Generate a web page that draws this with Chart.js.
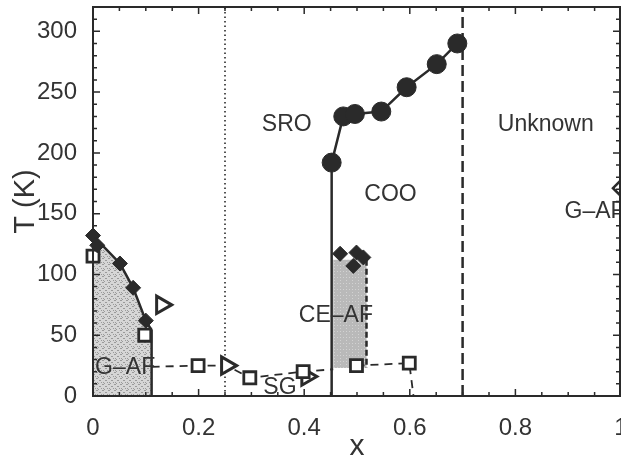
<!DOCTYPE html>
<html>
<head>
<meta charset="utf-8">
<script src="https://cdn.jsdelivr.net/npm/chart.js@4.4.1/dist/chart.umd.min.js"></script>
<style>
  html, body { margin: 0; padding: 0; background: #fff; overflow: hidden; }
  #wrap { width: 621px; height: 459px; }
</style>
</head>
<body>
<div id="wrap"><canvas id="c" width="621" height="459"></canvas></div>
<script>
// ---- axes ----
const xTicks = [0, 0.2, 0.4, 0.6, 0.8, 1];
const xTickLabels = ['0', '0.2', '0.4', '0.6', '0.8', '1'];
const yTicks = [0, 50, 100, 150, 200, 250, 300];
const yTickLabels = ['0', '50', '100', '150', '200', '250', '300'];

// ---- measured transition temperatures ----
// charge/orbital ordering (filled circles)
const cooX = [0.452, 0.474, 0.496, 0.546, 0.594, 0.651, 0.690];
const cooT = [192, 230, 232, 234, 254, 273, 290];
// Neel temperature, G-type AF side (filled diamonds)
const gafX = [0, 0.008, 0.051, 0.076, 0.100];
const gafT = [132, 124, 109, 89, 62];
// Neel temperature, CE-type AF (filled diamonds)
const ceX = [0.468, 0.493, 0.499, 0.512];
const ceT = [117, 107, 118, 114];
// freezing temperatures (open squares)
const sqX = [0, 0.098, 0.199, 0.297, 0.398, 0.499, 0.599];
const sqT = [115, 50, 25, 15, 20, 25, 27];
// open triangles
const triX = [0.13, 0.253, 0.405];
const triT = [75, 25, 16];
// open diamond, x = 1 end member
const endX = [1];
const endT = [171];

// ---- phase boundaries ----
const gafRegionX = [0, 0, 0.051, 0.076, 0.100, 0.111, 0.111];
const gafRegionT = [0, 132, 109, 89, 62, 54, 0];
const gafEdgeX = [0, 0.051, 0.076, 0.100, 0.111, 0.111];
const gafEdgeT = [132, 109, 89, 62, 54, 0];
const ceRegionX = [0.455, 0.455, 0.518, 0.518];
const ceRegionT = [23, 112, 112, 23];
const ceEdgeX = [0.518, 0.518];
const ceEdgeT = [112, 23];
const cooLineX = [0.452, 0.452, 0.474, 0.496, 0.546, 0.594, 0.651, 0.690];
const cooLineT = [0, 192, 230, 232, 234, 254, 273, 290];
const sgLineX = [0.111, 0.199, 0.253, 0.297, 0.398, 0.455];
const sgLineT = [24, 25, 25, 15, 20, 22];
const sgLine2X = [0.499, 0.599, 0.607];
const sgLine2T = [25, 27, 0];
const dottedX = [0.25, 0.25];
const dashedX = [0.7, 0.7];
const fullT = [0, 320];

// ---- region names ----
const regionNames = ['SRO', 'COO', 'Unknown', 'G\u2013AF', 'CE\u2013AF', 'G\u2013AF', 'SG'];
const regionX = [0.367, 0.5635, 0.8576, 0.893, 0.46, 0.004, 0.354];
const regionT = [223.5, 165.5, 223, 151.7, 66, 23.4, 7];
const regionAlign = ['center', 'center', 'center', 'left', 'center', 'left', 'center'];

const FONT = '"Liberation Sans", Arial, Helvetica, sans-serif';
const INK = '#2a2a2a';

const pts = (xs, ys) => xs.map((x, i) => ({ x, y: ys[i] }));

// grainy fills for the two ordered regions
function makePattern(base, speck, dots) {
  const p = document.createElement('canvas');
  p.width = 6; p.height = 6;
  const g = p.getContext('2d');
  g.fillStyle = base; g.fillRect(0, 0, 6, 6);
  g.fillStyle = speck;
  dots.forEach(([a, b]) => g.fillRect(a, b, 1, 1));
  return g.createPattern(p, 'repeat');
}
const ctx = document.getElementById('c').getContext('2d');
const gafFill = makePattern('#d6d6d6', '#9a9a9a', [[0,0],[1,0],[3,2],[4,2],[1,4],[5,4],[2,5]]);
const ceFill = makePattern('#b9b9b9', '#d2d2d2', [[1,1],[4,4],[4,1]]);

const lineDs = (data, extra) => Object.assign({
  data, showLine: true, pointRadius: 0, borderColor: INK, borderWidth: 2.5,
  fill: false, order: 1, clip: false, tension: 0
}, extra);

const markDs = (data, extra) => Object.assign({
  data, showLine: false, order: 0, clip: false,
  pointBorderColor: INK, pointHoverRadius: 0
}, extra);

// frame, inward ticks and axis titles
const framePlugin = {
  id: 'frame',
  afterDraw(chart) {
    const { ctx, chartArea: a, scales: { x, y } } = chart;
    ctx.save();
    ctx.strokeStyle = INK;
    ctx.lineWidth = 1.5;
    ctx.beginPath();
    for (let i = 0; i <= 20; i++) {
      const px = x.getPixelForValue(i * 0.05);
      const len = i % 4 === 0 ? 7 : 4;
      ctx.moveTo(px, a.bottom); ctx.lineTo(px, a.bottom - len);
      ctx.moveTo(px, a.top); ctx.lineTo(px, a.top + len);
    }
    for (let i = 0; i <= 32; i++) {
      const py = y.getPixelForValue(i * 10);
      const len = i % 5 === 0 ? 7 : 4;
      ctx.moveTo(a.left, py); ctx.lineTo(a.left + len, py);
      ctx.moveTo(a.right - 1, py); ctx.lineTo(a.right - 1 - len, py);
    }
    ctx.stroke();
    ctx.lineWidth = 2;
    ctx.strokeRect(a.left, a.top, a.right - 1 - a.left, a.bottom - a.top);

    ctx.fillStyle = '#333';
    ctx.textBaseline = 'alphabetic';
    ctx.textAlign = 'center';
    ctx.font = '30px ' + FONT;
    ctx.fillText('x', (a.left + a.right) / 2, 455);
    ctx.translate(34, (a.top + a.bottom) / 2);
    ctx.rotate(-Math.PI / 2);
    ctx.font = '29px ' + FONT;
    ctx.fillText('T (K)', 0, 0);
    ctx.restore();
  },
  afterDatasetsDraw(chart) {
    const { ctx, scales: { x, y } } = chart;
    ctx.save();
    ctx.fillStyle = '#333';
    ctx.font = '23px ' + FONT;
    ctx.textBaseline = 'middle';
    regionNames.forEach((t, i) => {
      ctx.textAlign = regionAlign[i];
      ctx.fillText(t, x.getPixelForValue(regionX[i]), y.getPixelForValue(regionT[i]));
    });
    ctx.restore();
  }
};

new Chart(ctx, {
  type: 'scatter',
  data: {
    datasets: [
      // shaded regions
      lineDs(pts(gafRegionX, gafRegionT), { fill: 'shape', backgroundColor: gafFill, borderWidth: 0, borderColor: 'rgba(0,0,0,0)', order: 3 }),
      lineDs(pts(ceRegionX, ceRegionT), { fill: 'shape', backgroundColor: ceFill, borderWidth: 0, borderColor: 'rgba(0,0,0,0)', order: 3 }),
      // reference lines
      lineDs(pts(dottedX, fullT), { borderWidth: 1.6, borderDash: [1.5, 3], order: 2 }),
      lineDs(pts(dashedX, fullT), { borderWidth: 2.5, borderDash: [11, 5] }),
      // boundaries
      lineDs(pts(gafEdgeX, gafEdgeT)),
      lineDs(pts(ceEdgeX, ceEdgeT), { borderDash: [6, 3] }),
      lineDs(pts(cooLineX, cooLineT)),
      lineDs(pts(sgLineX, sgLineT), { borderWidth: 1.8, borderDash: [8, 6] }),
      lineDs(pts(sgLine2X, sgLine2T), { borderWidth: 1.8, borderDash: [8, 6] }),
      // markers
      markDs(pts(cooX, cooT), { pointStyle: 'circle', pointRadius: 9.5, pointBackgroundColor: INK, pointBorderWidth: 1 }),
      markDs(pts(gafX, gafT), { pointStyle: 'rectRot', pointRadius: 7.5, pointBackgroundColor: INK, pointBorderWidth: 1 }),
      markDs(pts(ceX, ceT), { pointStyle: 'rectRot', pointRadius: 7.5, pointBackgroundColor: INK, pointBorderWidth: 1 }),
      markDs(pts(sqX, sqT), { pointStyle: 'rect', pointRadius: 8.5, pointBackgroundColor: '#fff', pointBorderWidth: 2.8 }),
      markDs(pts(triX, triT), { pointStyle: 'triangle', pointRotation: 90, pointRadius: 10, pointBackgroundColor: '#fff', pointBorderWidth: 3 }),
      markDs(pts(endX, endT), { pointStyle: 'rectRot', pointRadius: 8, pointBackgroundColor: '#fff', pointBorderWidth: 2.5 })
    ]
  },
  options: {
    responsive: false,
    animation: false,
    events: [],
    layout: { autoPadding: false, padding: { left: 0, right: 0, top: 7, bottom: 0 } },
    plugins: { legend: { display: false }, tooltip: { enabled: false } },
    scales: {
      x: {
        type: 'linear', min: 0, max: 1,
        grid: { display: false }, border: { display: false },
        afterBuildTicks: s => { s.ticks = xTicks.map(v => ({ value: v })); },
        afterFit: s => { s.height = 63; s.paddingLeft = 0; s.paddingRight = 0; },
        ticks: {
          font: { family: FONT, size: 24 }, color: '#333', padding: 10,
          maxRotation: 0, autoSkip: false,
          callback: (v, i) => xTickLabels[i]
        }
      },
      y: {
        type: 'linear', min: 0, max: 320,
        grid: { display: false }, border: { display: false },
        afterBuildTicks: s => { s.ticks = yTicks.map(v => ({ value: v })); },
        afterFit: s => { s.width = 93; s.paddingTop = 0; s.paddingBottom = 0; },
        ticks: {
          font: { family: FONT, size: 24 }, color: '#333', padding: 8,
          autoSkip: false,
          callback: (v, i) => yTickLabels[i]
        }
      }
    }
  },
  plugins: [framePlugin]
});
</script>
</body>
</html>
